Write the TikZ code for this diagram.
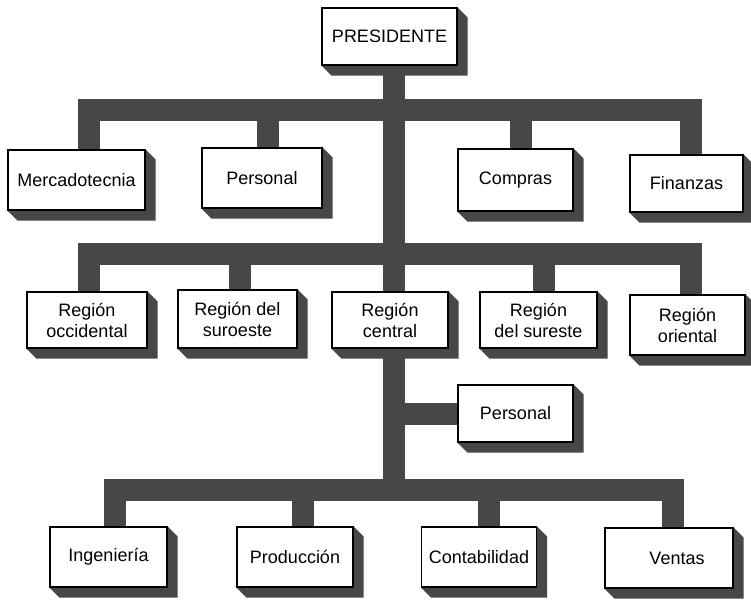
\documentclass[tikz,border=0pt]{standalone}
\usepackage{fontspec}
\setmainfont{Liberation Sans}
\usetikzlibrary{calc}
\pgfdeclarelayer{bg}
\pgfsetlayers{bg,main}
\colorlet{ink}{black!72}
\tikzset{
  unit/.style={draw=black, line width=1.1pt, fill=white, align=center,
    inner sep=0pt, font=\fontsize{18}{21}\selectfont},
  bar/.style={draw=ink, line width=22pt},
  bus/.style={bar, line cap=rect},
}
% extruded side and bottom of a box
\newcommand\boxdepth[2][10]{%
  \fill[ink] (#2.south west) -- ++(#1,#1) -- ($(#2.south east)+(#1,#1)$)
    -- ($(#2.north east)+(#1,#1)$) -- (#2.north east) -- cycle;}
\begin{document}
\begin{tikzpicture}[x=1pt,y=-1pt]
\useasboundingbox (0,0) rectangle (751,599);

% levels of the horizontal buses
\coordinate (b1) at (0,110);
\coordinate (b2) at (0,253.5);
\coordinate (b3) at (0,490);

\node[unit, minimum width=135pt, minimum height=57pt] (pres) at (389.5,36.5) {PRESIDENTE};

\node[unit, minimum width=137pt, minimum height=60pt] (merc)  at (76.5,180) {Mercadotecnia};
\node[unit, minimum width=120pt, minimum height=60pt] (pers1) at (262,178)  {Personal};
\node[unit, minimum width=115pt, minimum height=62pt] (comp)  at (515.5,180) {Compras};
\node[unit, minimum width=113pt, minimum height=57pt] (fin)   at (686.5,183.5) {Finanzas};

\node[unit, minimum width=120pt, minimum height=56pt] (rocc)  at (87,320)    {Región\\occidental};
\node[unit, minimum width=119pt, minimum height=58pt] (rsur)  at (237.5,319)  {Región del\\suroeste};
\node[unit, minimum width=116pt, minimum height=56pt] (rcen)  at (390,320)   {Región\\central};
\node[unit, minimum width=117pt, minimum height=56pt] (rsure) at (538.5,320) {Región\\del sureste};
\node[unit, minimum width=115pt, minimum height=60pt] (rori)  at (687.5,325) {Región\\oriental};

\node[unit, minimum width=115pt, minimum height=57pt] (pers2) at (515.5,413.5) {Personal};

\node[unit, minimum width=117pt, minimum height=60pt] (ing)  at (108.5,557) {Ingeniería};
\node[unit, minimum width=116pt, minimum height=60pt] (prod) at (295,557)   {Producción};
\node[unit, minimum width=115pt, minimum height=60pt] (cont) at (479,557)   {Contabilidad};
\node[unit, minimum width=128pt, minimum height=60pt, text width=112pt] (vent) at (669,558) {\hspace*{16pt}Ventas};

\coordinate (tr) at ([xshift=4.5pt]pres.south);

\begin{pgfonlayer}{bg}
  \foreach \n in {pres,merc,pers1,comp,fin,rocc,rsur,rcen,rsure,rori,pers2,ing,prod,cont,vent}
    {\boxdepth{\n}}

  % trunk
  \draw[bar] (tr) -- (tr |- b3);

  % first level
  \draw[bus] ([xshift=12.5pt]merc.north |- b1) -- ([xshift=4.5pt]fin.north |- b1);
  \foreach \n/\s in {merc/12.5,pers1/6,comp/5.5,fin/4.5}
    \draw[bar] ([xshift=\s pt]\n.north) -- ([xshift=\s pt]\n.north |- b1);

  % regions
  \draw[bus] ([xshift=1.5pt]rocc.north |- b2) -- ([xshift=3.5pt]rori.north |- b2);
  \foreach \n/\s in {rocc/1.5,rsur/2.5,rsure/5,rori/3.5}
    \draw[bar] ([xshift=\s pt]\n.north) -- ([xshift=\s pt]\n.north |- b2);

  % staff unit of the central region
  \draw[bar] (pers2.west) -- (pers2.west -| tr);

  % departments
  \draw[bus] ([xshift=6.5pt]ing.north |- b3) -- ([xshift=4pt]vent.north |- b3);
  \foreach \n/\s in {ing/6.5,prod/7.5,cont/10,vent/4}
    \draw[bar] ([xshift=\s pt]\n.north) -- ([xshift=\s pt]\n.north |- b3);
\end{pgfonlayer}
\end{tikzpicture}
\end{document}
